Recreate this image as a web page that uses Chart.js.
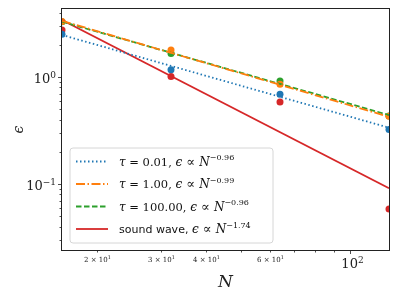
<!DOCTYPE html>
<html lang="en">
<head>
<meta charset="utf-8" />
<title>Convergence</title>
<script src="https://cdn.jsdelivr.net/npm/chart.js@4.4.1/dist/chart.umd.min.js"></script>
<style>
  html, body { margin: 0; padding: 0; background: #fff; }
  #wrap { width: 399px; height: 299px; }
</style>
</head>
<body>
<div id="wrap"><canvas id="chart" width="399" height="299"></canvas></div>
<script>
// resolution N and measured error for each run
const N_VALUES = [16, 32, 64, 128];
const EPS_TAU001 = [2.51, 1.17, 0.69, 0.324];
const EPS_TAU1 = [3.30, 1.79, 0.855, 0.43];
const EPS_TAU100 = [3.29, 1.66, 0.918, 0.432];
const EPS_SOUND = [2.75, 1.01, 0.584, 0.0584];

// fitted power laws, evaluated at both ends of the axis
const FIT_N = [16, 128];
const FIT_TAU001 = [2.47, 0.336];
const FIT_TAU1 = [3.35, 0.425];
const FIT_TAU100 = [3.29, 0.441];
const FIT_SOUND = [3.41, 0.0914];

const TAU_LABELS = ['0.01', '1.00', '100.00'];
const SLOPE_LABELS = ['\u22120.96', '\u22120.99', '\u22120.96', '\u22121.74'];

// axis ticks
const X_MINOR = [20, 30, 40, 50, 60, 70, 80, 90];
const X_MINOR_LABELS = { 20: '2', 30: '3', 40: '4', 60: '6' };
const X_MAJOR = [100];
const Y_MAJOR = [0.1, 1];
const Y_MINOR = [0.03, 0.04, 0.05, 0.06, 0.07, 0.08, 0.09, 0.2, 0.3, 0.4, 0.5, 0.6, 0.7, 0.8, 0.9, 2, 3, 4];

const BLUE = '#1f77b4', ORANGE = '#ff7f0e', GREEN = '#2ca02c', RED = '#d62728';
const SERIF = '"DejaVu Serif", serif';

function pts(xs, ys) { return xs.map((x, i) => ({ x: x, y: ys[i] })); }

function fitSet(data, color, dash) {
    return { type: 'line', data: pts(FIT_N, data), borderColor: color, borderWidth: 1.8,
             borderDash: dash, pointRadius: 0, fill: false, clip: 0 };
}
function dotSet(data, color) {
    return { type: 'scatter', data: pts(N_VALUES, data), backgroundColor: color, borderColor: color,
             pointRadius: 3.5, borderWidth: 0, showLine: false, clip: 0 };
}

// draw a run of text pieces: {t, font, dy}
function drawParts(ctx, parts, x, y, align) {
    let w = 0;
    parts.forEach(p => { ctx.font = p.font; w += ctx.measureText(p.t).width; });
    let cx = align === 'right' ? x - w : align === 'center' ? x - w / 2 : x;
    ctx.textAlign = 'left';
    parts.forEach(p => {
        ctx.font = p.font;
        ctx.fillText(p.t, cx, y + (p.dy || 0));
        cx += ctx.measureText(p.t).width;
    });
}

const axesPlugin = {
    id: 'axesPlugin',
    afterDraw(chart) {
        const ctx = chart.ctx, a = chart.chartArea;
        const xs = chart.scales.x, ys = chart.scales.y;
        ctx.save();
        ctx.strokeStyle = '#222';
        ctx.fillStyle = '#222';
        ctx.lineWidth = 1;
        ctx.strokeRect(Math.round(a.left) - 0.5, Math.round(a.top) - 0.5,
                       Math.round(a.right - a.left) + 1, Math.round(a.bottom - a.top) + 1);

        ctx.lineWidth = 0.8;
        ctx.textBaseline = 'alphabetic';
        // x ticks
        X_MINOR.forEach(v => {
            const px = Math.round(xs.getPixelForValue(v)) + 0.5;
            ctx.beginPath(); ctx.moveTo(px, a.bottom + 0.5); ctx.lineTo(px, a.bottom + 2.5); ctx.stroke();
            if (X_MINOR_LABELS[v]) {
                drawParts(ctx, [
                    { t: X_MINOR_LABELS[v] + ' \u00d7 10', font: '7px ' + SERIF },
                    { t: '1', font: '5px ' + SERIF, dy: -3 }
                ], px, a.bottom + 12, 'center');
            }
        });
        X_MAJOR.forEach(v => {
            const px = Math.round(xs.getPixelForValue(v)) + 0.5;
            ctx.beginPath(); ctx.moveTo(px, a.bottom + 0.5); ctx.lineTo(px, a.bottom + 4); ctx.stroke();
            drawParts(ctx, [
                { t: '10', font: '13px ' + SERIF },
                { t: '2', font: '9px ' + SERIF, dy: -5 }
            ], px + 2, a.bottom + 18, 'center');
        });
        // y ticks
        Y_MINOR.forEach(v => {
            const py = Math.round(ys.getPixelForValue(v)) + 0.5;
            ctx.beginPath(); ctx.moveTo(a.left - 0.5, py); ctx.lineTo(a.left - 2.5, py); ctx.stroke();
        });
        Y_MAJOR.forEach(v => {
            const py = Math.round(ys.getPixelForValue(v)) + 0.5;
            ctx.beginPath(); ctx.moveTo(a.left - 0.5, py); ctx.lineTo(a.left - 4, py); ctx.stroke();
            const e = Math.round(Math.log10(v));
            drawParts(ctx, [
                { t: '10', font: '13px ' + SERIF },
                { t: e < 0 ? '\u2212' + (-e) : String(e), font: '9px ' + SERIF, dy: -5 }
            ], a.left - 6, py + 5, 'right');
        });

        // axis titles
        ctx.font = 'italic 17px ' + SERIF;
        ctx.textAlign = 'center';
        ctx.fillText('N', (a.left + a.right) / 2, 287);
        ctx.save();
        ctx.translate(23, (a.top + a.bottom) / 2);
        ctx.rotate(-Math.PI / 2);
        ctx.font = 'italic 14px ' + SERIF;
        ctx.fillText('\u03f5', 0, 0);
        ctx.restore();

        // legend
        const lx = 70, ly = 148, lw = 203, lh = 95, r = 3;
        ctx.beginPath();
        ctx.moveTo(lx + r, ly);
        ctx.arcTo(lx + lw, ly, lx + lw, ly + lh, r);
        ctx.arcTo(lx + lw, ly + lh, lx, ly + lh, r);
        ctx.arcTo(lx, ly + lh, lx, ly, r);
        ctx.arcTo(lx, ly, lx + lw, ly, r);
        ctx.closePath();
        ctx.fillStyle = 'rgba(255,255,255,0.85)';
        ctx.fill();
        ctx.strokeStyle = '#d6d6d6';
        ctx.lineWidth = 1;
        ctx.stroke();

        const rows = [
            { color: BLUE, dash: [1.5, 2.5] },
            { color: ORANGE, dash: [9, 2.5, 1.5, 2.5] },
            { color: GREEN, dash: [5.5, 2.5] },
            { color: RED, dash: [] }
        ];
        const rowY = [161.5, 184, 206.5, 229];
        rows.forEach((row, i) => {
            const y = rowY[i];
            ctx.strokeStyle = row.color;
            ctx.lineWidth = 1.8;
            ctx.setLineDash(row.dash);
            ctx.beginPath(); ctx.moveTo(76, y); ctx.lineTo(108, y); ctx.stroke();
            ctx.setLineDash([]);
            ctx.fillStyle = '#111';
            const tail = [
                { t: '\u03f5', font: 'italic 12px ' + SERIF },
                { t: ' \u221d ', font: '13px ' + SERIF },
                { t: 'N', font: 'italic 12px ' + SERIF },
                { t: SLOPE_LABELS[i], font: '8px ' + SERIF, dy: -5.5 }
            ];
            let head;
            if (i < 3) {
                head = [
                    { t: '\u03c4', font: 'italic 12px ' + SERIF },
                    { t: ' = ' + TAU_LABELS[i] + ', ', font: '11.5px ' + SERIF }
                ];
            } else {
                head = [{ t: 'sound wave, ', font: '11px "DejaVu Sans", sans-serif' }];
            }
            drawParts(ctx, head.concat(tail), 119, y + 4, 'left');
        });
        ctx.restore();
    }
};

new Chart(document.getElementById('chart'), {
    data: {
        datasets: [
            fitSet(FIT_TAU001, BLUE, [1.5, 2.5]),
            fitSet(FIT_TAU1, ORANGE, [9, 2.5, 1.5, 2.5]),
            fitSet(FIT_TAU100, GREEN, [5.5, 2.5]),
            fitSet(FIT_SOUND, RED, []),
            dotSet(EPS_TAU001, BLUE),
            dotSet(EPS_TAU1, ORANGE),
            dotSet(EPS_TAU100, GREEN),
            dotSet(EPS_SOUND, RED)
        ]
    },
    options: {
        responsive: false,
        animation: false,
        layout: { padding: { left: 62, top: 9, right: 10, bottom: 49 } },
        plugins: { legend: { display: false }, tooltip: { enabled: false } },
        scales: {
            x: { type: 'logarithmic', min: 16, max: 128, display: false },
            y: { type: 'logarithmic', min: 0.0242, max: 4.32, display: false }
        }
    },
    plugins: [axesPlugin]
});
</script>
</body>
</html>
